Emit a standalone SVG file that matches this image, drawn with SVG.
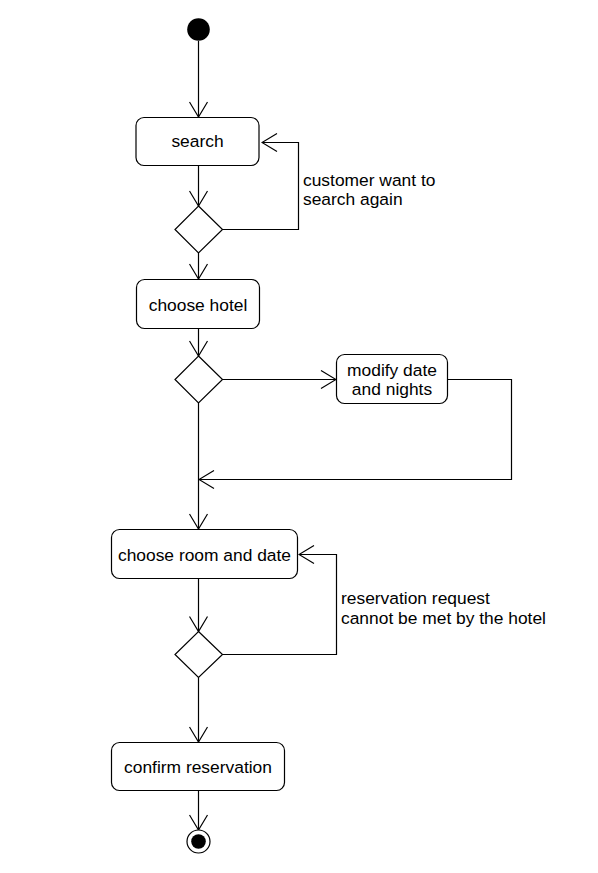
<svg xmlns="http://www.w3.org/2000/svg" width="598" height="873" viewBox="0 0 598 873">
<style>
.n{fill:#fff;stroke:#000;stroke-width:1.2}
.t{font-family:"Liberation Sans",Arial,sans-serif;font-size:17.4px;fill:#000}
.c{text-anchor:middle}
.e{fill:none;stroke:#000;stroke-width:1.2}
</style>
<defs>
<marker id="a" viewBox="-16 -10 17 20" refX="0" refY="0" markerWidth="17" markerHeight="20" markerUnits="userSpaceOnUse" orient="auto">
<path d="M-15,-9 L0,0 L-15,9" fill="none" stroke="#000" stroke-width="1.2"/>
</marker>
</defs>
<rect width="598" height="873" fill="#fff"/>
<g id="connectors">
<path class="e" d="M198.5,41 V117" marker-end="url(#a)"/>
<path class="e" d="M198.5,165 V206" marker-end="url(#a)"/>
<path class="e" d="M222.5,229.5 H298.5 V142.5 H262" marker-end="url(#a)"/>
<path class="e" d="M198.5,253 V279" marker-end="url(#a)"/>
<path class="e" d="M198.5,328 V356" marker-end="url(#a)"/>
<path class="e" d="M222.5,379.5 H336" marker-end="url(#a)"/>
<path class="e" d="M447,379.5 H511.5 V479.5 H199" marker-end="url(#a)"/>
<path class="e" d="M198.5,403 V529" marker-end="url(#a)"/>
<path class="e" d="M198.5,578 V631.5" marker-end="url(#a)"/>
<path class="e" d="M222.5,654.5 H336.5 V554.5 H299" marker-end="url(#a)"/>
<path class="e" d="M198.5,677.5 V742" marker-end="url(#a)"/>
<path class="e" d="M198.5,790 V830" marker-end="url(#a)"/>
<text class="t" x="303" y="186">customer want to</text>
<text class="t" x="303" y="205">search again</text>
<text class="t" x="341" y="604">reservation request</text>
<text class="t" x="341" y="624">cannot be met by the hotel</text>
</g>
<g id="start"><circle cx="198.5" cy="29.5" r="11.3" fill="#000"/></g>
<g id="search"><rect class="n" x="136" y="117.5" width="123" height="48" rx="8"/><text class="t c" x="197.5" y="147">search</text></g>
<g id="decision1"><polygon class="n" points="198.5,206 222.5,229.5 198.5,253 175,229.5"/></g>
<g id="chooseHotel"><rect class="n" x="136.5" y="279.5" width="123" height="49" rx="8"/><text class="t c" x="198" y="311">choose hotel</text></g>
<g id="decision2"><polygon class="n" points="198.5,356 222.5,379.5 198.5,403 175,379.5"/></g>
<g id="modify"><rect class="n" x="336.5" y="354.5" width="111" height="49" rx="8"/><text class="t c" x="392" y="376">modify date</text><text class="t c" x="392" y="395">and nights</text></g>
<g id="chooseRoom"><rect class="n" x="111.5" y="529.5" width="186" height="49" rx="8"/><text class="t c" x="204.5" y="561">choose room and date</text></g>
<g id="decision3"><polygon class="n" points="198.5,631.5 222.5,654.5 198.5,677.5 175,654.5"/></g>
<g id="confirm"><rect class="n" x="111.5" y="742.5" width="173" height="48" rx="8"/><text class="t c" x="198" y="773">confirm reservation</text></g>
<g id="end"><circle cx="198.5" cy="841.5" r="11.5" fill="#fff" stroke="#000" stroke-width="1.2"/><circle cx="198.5" cy="841.5" r="7.3" fill="#000"/></g>
</svg>
